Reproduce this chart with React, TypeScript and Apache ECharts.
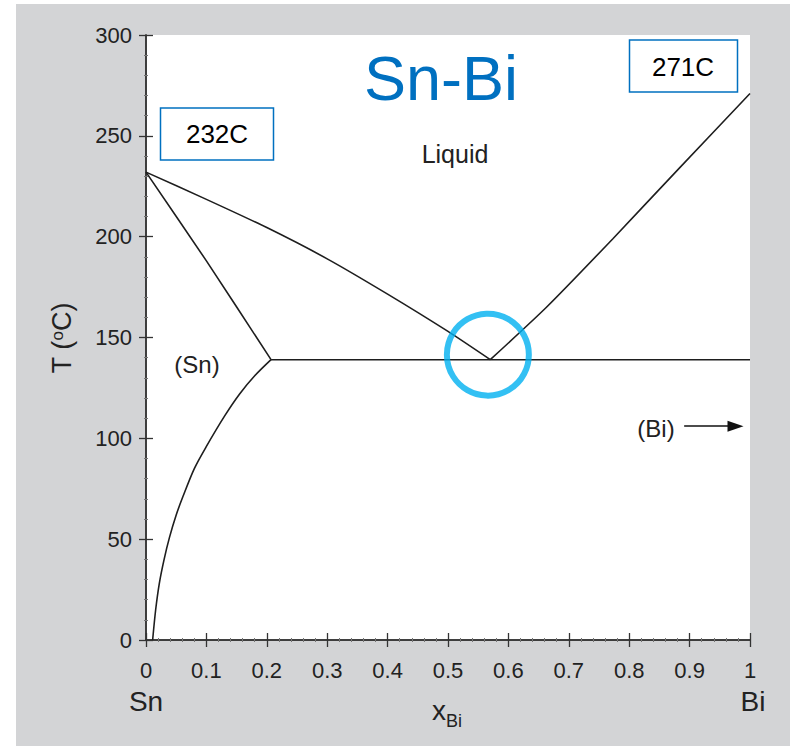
import React, { useEffect, useRef } from "react";
import * as echarts from "echarts";

// Liquidus (Sn side)
const liqLeftX = [0, 0.1, 0.2, 0.3, 0.4, 0.5, 0.57];
const liqLeftT = [232, 218.5, 204.5, 189, 171.5, 153, 139];
// Solidus of (Sn)
const solidusX = [0, 0.1, 0.207];
const solidusT = [232, 188, 139];
// Solvus of (Sn)
const solvusX = [0.207, 0.18, 0.155, 0.13, 0.1, 0.08, 0.061, 0.05, 0.039, 0.03, 0.022, 0.016, 0.011];
const solvusT = [139, 131, 122, 111, 96, 85, 71, 62, 51, 40, 28, 15, 0];
// Liquidus (Bi side)
const liqRightX = [0.57, 0.663, 0.773, 0.883, 1];
const liqRightT = [139, 165, 199, 234, 271];
// Eutectic line
const eutecticX = [0.207, 1];
const eutecticT = [139, 139];
// Eutectic highlight point
const eutecticPoint = [0.566, 141.5];
// (Bi) arrow
const arrowFrom = [0.891, 106];
const arrowTo = [0.976, 106];

const xTicks = { min: 0, max: 1, interval: 0.1 };
const yTicks = { min: 0, max: 300, interval: 50 };

const zip = (xs: number[], ys: number[]) => xs.map((x, i) => [x, ys[i]]);

const FONT = "'Liberation Sans', Arial, sans-serif";

export default function App() {
  const ref = useRef<HTMLDivElement>(null);
  useEffect(() => {
    if (!ref.current) return;
    const chart = echarts.init(ref.current, undefined, { renderer: "svg" });
    const lineStyle = { color: "#1e1e1e", width: 1.6 };
    const mkLine = (name: string, xs: number[], ys: number[], smooth: number | boolean) => ({
      name,
      type: "line",
      data: zip(xs, ys),
      showSymbol: false,
      symbol: "none",
      smooth,
      lineStyle,
      silent: true,
    });
    const axisCommon = {
      type: "value",
      axisLine: { show: true, lineStyle: { color: "#333", width: 1.5 } },
      axisTick: { show: true, length: 7, lineStyle: { color: "#333", width: 1.3 } },
      minorTick: { show: true, splitNumber: 5, length: 2, lineStyle: { color: "#777", width: 1 } },
      splitLine: { show: false },
      minorSplitLine: { show: false },
    };
    chart.setOption({
      animation: false,
      backgroundColor: "transparent",
      grid: {
        left: 146,
        top: 35,
        width: 604,
        height: 605,
        show: true,
        backgroundColor: "#ffffff",
        borderWidth: 0,
      },
      xAxis: [
        {
          ...axisCommon,
          position: "bottom",
          ...xTicks,
          axisLabel: {
            show: true,
            fontSize: 22,
            color: "#222",
            fontFamily: FONT,
            margin: 19,
          },
        },
        {
          ...axisCommon,
          position: "top",
          ...xTicks,
          axisLabel: { show: false },
        },
      ],
      yAxis: [
        {
          ...axisCommon,
          position: "left",
          ...yTicks,
          axisLabel: {
            show: true,
            fontSize: 22,
            color: "#222",
            fontFamily: FONT,
            margin: 14,
          },
        },
        {
          ...axisCommon,
          position: "right",
          ...yTicks,
          axisLabel: { show: false },
        },
      ],
      series: [
        mkLine("liquidusSn", liqLeftX, liqLeftT, 0.2),
        mkLine("solidusSn", solidusX, solidusT, 0.2),
        mkLine("solvusSn", solvusX, solvusT, 0.3),
        mkLine("liquidusBi", liqRightX, liqRightT, 0.2),
        {
          ...mkLine("eutectic", eutecticX, eutecticT, false),
          markLine: {
            silent: true,
            symbol: ["none", "triangle"],
            symbolSize: [11, 16],
            label: { show: false },
            lineStyle: { color: "#111", width: 1.5, type: "solid" },
            data: [[{ coord: arrowFrom }, { coord: arrowTo }]],
          },
        },
        {
          name: "eutecticPoint",
          type: "scatter",
          data: [eutecticPoint],
          symbol: "circle",
          symbolSize: 82,
          itemStyle: { color: "rgba(0,0,0,0)", borderColor: "#00b0f0", borderWidth: 6 },
          silent: true,
          z: 5,
        },
      ],
      graphic: [
        {
          type: "text",
          x: 441,
          y: 78,
          style: {
            text: "Sn-Bi",
            fontSize: 63,
            fontFamily: FONT,
            fill: "#0070c0",
            textAlign: "center",
            textVerticalAlign: "middle",
          },
        },
        {
          type: "text",
          x: 455,
          y: 154,
          style: {
            text: "Liquid",
            fontSize: 25,
            fontFamily: FONT,
            fill: "#222",
            textAlign: "center",
            textVerticalAlign: "middle",
          },
        },
        {
          type: "text",
          x: 197,
          y: 364,
          style: {
            text: "(Sn)",
            fontSize: 24,
            fontFamily: FONT,
            fill: "#222",
            textAlign: "center",
            textVerticalAlign: "middle",
          },
        },
        {
          type: "text",
          x: 656,
          y: 428,
          style: {
            text: "(Bi)",
            fontSize: 24,
            fontFamily: FONT,
            fill: "#222",
            textAlign: "center",
            textVerticalAlign: "middle",
          },
        },
        {
          type: "rect",
          shape: { x: 160.5, y: 108, width: 113, height: 52 },
          style: { fill: "#fff", stroke: "#0070c0", lineWidth: 1.5 },
        },
        {
          type: "text",
          x: 217,
          y: 134,
          style: {
            text: "232C",
            fontSize: 26,
            fontFamily: FONT,
            fill: "#000",
            textAlign: "center",
            textVerticalAlign: "middle",
          },
        },
        {
          type: "rect",
          shape: { x: 629.5, y: 40, width: 108, height: 52 },
          style: { fill: "#fff", stroke: "#0070c0", lineWidth: 1.5 },
        },
        {
          type: "text",
          x: 683,
          y: 67,
          style: {
            text: "271C",
            fontSize: 26,
            fontFamily: FONT,
            fill: "#000",
            textAlign: "center",
            textVerticalAlign: "middle",
          },
        },
        {
          type: "text",
          x: 146,
          y: 701,
          style: {
            text: "Sn",
            fontSize: 28,
            fontFamily: FONT,
            fill: "#222",
            textAlign: "center",
            textVerticalAlign: "middle",
          },
        },
        {
          type: "text",
          x: 753,
          y: 701,
          style: {
            text: "Bi",
            fontSize: 28,
            fontFamily: FONT,
            fill: "#222",
            textAlign: "center",
            textVerticalAlign: "middle",
          },
        },
        {
          type: "text",
          x: 447,
          y: 710,
          style: {
            text: "{x|x}{s|Bi}",
            textAlign: "center",
            textVerticalAlign: "middle",
            rich: {
              x: { fontSize: 28, fontFamily: FONT, fill: "#222", verticalAlign: "bottom" },
              s: { fontSize: 18, fontFamily: FONT, fill: "#222", verticalAlign: "bottom", padding: [0, 0, -6, 0] },
            },
          },
        },
        {
          type: "text",
          x: 62,
          y: 338,
          rotation: Math.PI / 2,
          style: {
            text: "{n|T (}{s|o}{n|C)}",
            textAlign: "center",
            textVerticalAlign: "middle",
            rich: {
              n: { fontSize: 27, fontFamily: FONT, fill: "#222", verticalAlign: "bottom" },
              s: { fontSize: 17, fontFamily: FONT, fill: "#222", verticalAlign: "top" },
            },
          },
        },
      ],
    });
    return () => chart.dispose();
  }, []);
  return (
    <div style={{ position: "fixed", left: 0, top: 0, width: 792, height: 746, background: "#ffffff" }}>
      <div style={{ position: "absolute", left: 16, top: 4, width: 774, height: 742, background: "#d3d4d6" }} />
      <div ref={ref} style={{ position: "absolute", left: 0, top: 0, width: 792, height: 746 }} />
    </div>
  );
}
